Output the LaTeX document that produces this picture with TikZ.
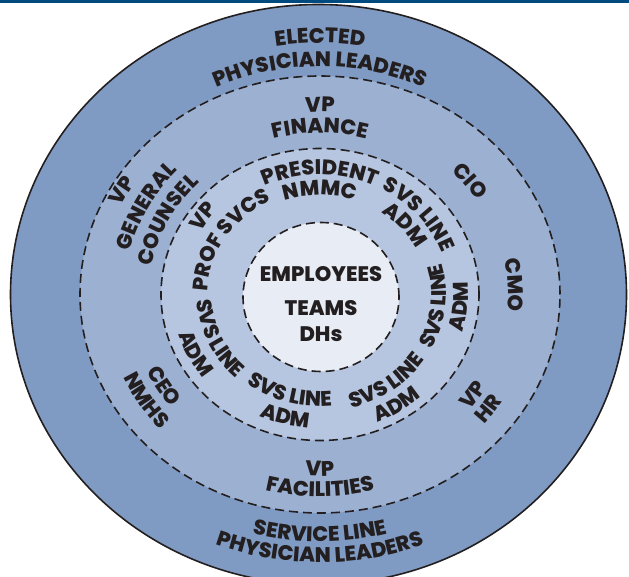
\documentclass[tikz,border=0pt]{standalone}
\usepackage{fontspec}
\setmainfont{Poppins}[BoldFont={Poppins ExtraBold}]
\usetikzlibrary{decorations.text}
\definecolor{ringA}{HTML}{809BC3}
\definecolor{ringB}{HTML}{9CB0D2}
\definecolor{ringC}{HTML}{B7C6E0}
\definecolor{ringD}{HTML}{E8ECF5}
\definecolor{barblue}{HTML}{004A80}
\definecolor{ink}{HTML}{231F20}
\newcommand\lab{\fontsize{21}{25}\selectfont\bfseries}
\tikzset{
  arclab/.style={decorate,decoration={text along path,text align=center,text color=ink,text={|\lab|#1}}},
  ringline/.style={draw=ink,line width=1.6pt,dash pattern=on 9pt off 5pt},
  centertext/.style={font=\lab,text=ink,anchor=base,inner sep=0pt}
}
% clockwise label: angle, baseline radius, half span, text
\newcommand\cwlab[4]{\path[arclab={#4}] (C) ++({#1+#3}:{1.08*#2} and {#2}) arc[start angle={#1+#3},end angle={#1-#3},x radius={1.08*#2},y radius={#2}];}
% counter-clockwise label
\newcommand\ccwlab[4]{\path[arclab={#4}] (C) ++({#1-#3}:{1.08*#2} and {#2}) arc[start angle={#1-#3},end angle={#1+#3},x radius={1.08*#2},y radius={#2}];}
\begin{document}
\begin{tikzpicture}[x=1pt,y=1pt]
\useasboundingbox (0,0) rectangle (629,576);
\clip (0,0) rectangle (629,576);
\coordinate (C) at (320,281.5);
\coordinate (O) at (318.5,281.5);
\coordinate (I) at (321,279);
% rings
\fill[ringA] (O) ellipse[x radius=308,y radius=290];
\draw[ink,line width=1.6pt] (O) ellipse[x radius=308,y radius=290];
\fill[ringB] (C) ellipse[x radius=240,y radius=218.5];
\draw[ringline] (C) ellipse[x radius=240,y radius=218.5];
\fill[ringC] (C) ellipse[x radius=159,y radius=146];
\draw[ringline] (C) ellipse[x radius=159,y radius=146];
\fill[ringD] (I) ellipse[x radius=78,y radius=74.5];
\draw[ringline] (I) ellipse[x radius=78,y radius=74.5];
% outer ring labels
\cwlab{90}{251.5}{45}{ELECTED}
\cwlab{90}{228}{45}{PHYSICIAN LEADERS}
\ccwlab{270}{247}{45}{SERVICE LINE}
\ccwlab{270}{268}{45}{PHYSICIAN LEADERS}
% second ring labels
\cwlab{90}{182.5}{40}{VP}
\cwlab{90}{161.5}{40}{FINANCE}
\ccwlab{270}{181.5}{40}{VP}
\ccwlab{270}{202}{40}{FACILITIES}
\cwlab{38.5}{173}{30}{CIO}
\cwlab{3}{174}{30}{CMO}
\ccwlab{-35}{180}{30}{VP}
\ccwlab{-36}{200}{30}{HR}
\ccwlab{212}{178}{30}{CEO}
\ccwlab{213}{200}{30}{NMHS}
\cwlab{151}{204}{30}{VP}
\cwlab{152}{181}{35}{GENERAL}
\cwlab{153}{158}{40}{COUNSEL}
% third ring labels
\cwlab{90}{120}{60}{PRESIDENT}
\cwlab{90}{99.5}{60}{NMMC}
\cwlab{39.5}{120}{60}{SVS LINE}
\cwlab{39.5}{100}{60}{ADM}
\ccwlab{-6}{117}{60}{SVS LINE}
\ccwlab{-5}{137}{60}{ADM}
\ccwlab{-53.5}{117}{60}{SVS LINE}
\ccwlab{-56}{139}{60}{ADM}
\ccwlab{253.5}{112}{60}{SVS LINE}
\ccwlab{254.5}{134}{60}{ADM}
\ccwlab{204}{114}{60}{SVS LINE}
\ccwlab{206}{137}{60}{ADM}
\cwlab{146}{127}{60}{VP}
\cwlab{148}{104}{60}{PROF SVCS}
% centre
\node[centertext] (emp) at (321,294) {EMPLOYEES};
\node[centertext] (teams) at (321,260) {TEAMS};
\node[centertext] (dhs) at (321,234) {DHs};
% top bar
\fill[barblue] (0,572.5) rectangle (629,576);
\end{tikzpicture}
\end{document}
